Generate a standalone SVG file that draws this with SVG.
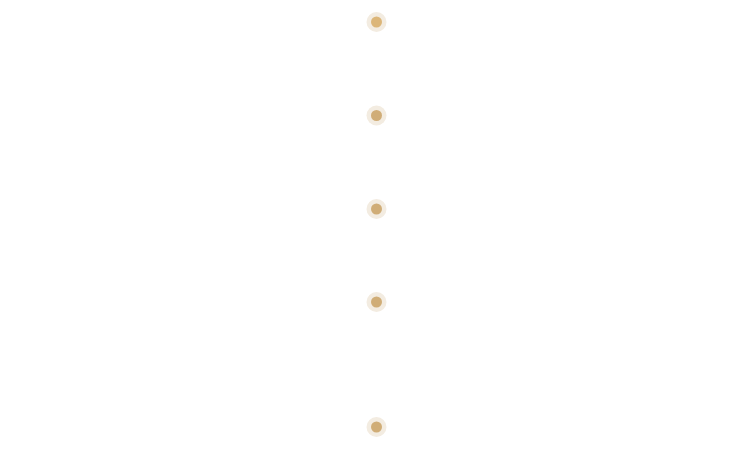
<svg xmlns="http://www.w3.org/2000/svg" width="751" height="475" viewBox="0 0 751 475">
<style>
.halo{fill:#f3ece1}
.dot{fill:#d0ad77}
.dot-first{fill:#dcb679}
</style>
<rect width="751" height="475" fill="#ffffff"/>
<g id="connectors"></g>
<g id="node1"><circle class="halo" cx="376.5" cy="22" r="10"/><circle class="dot-first" cx="376.5" cy="22" r="5.5"/></g>
<g id="node2"><circle class="halo" cx="376.5" cy="115.5" r="10"/><circle class="dot" cx="376.5" cy="115.5" r="5.5"/></g>
<g id="node3"><circle class="halo" cx="376.5" cy="209" r="10"/><circle class="dot" cx="376.5" cy="209" r="5.5"/></g>
<g id="node4"><circle class="halo" cx="376.5" cy="302" r="10"/><circle class="dot" cx="376.5" cy="302" r="5.5"/></g>
<g id="node5"><circle class="halo" cx="376.5" cy="427" r="10"/><circle class="dot" cx="376.5" cy="427" r="5.5"/></g>
</svg>
